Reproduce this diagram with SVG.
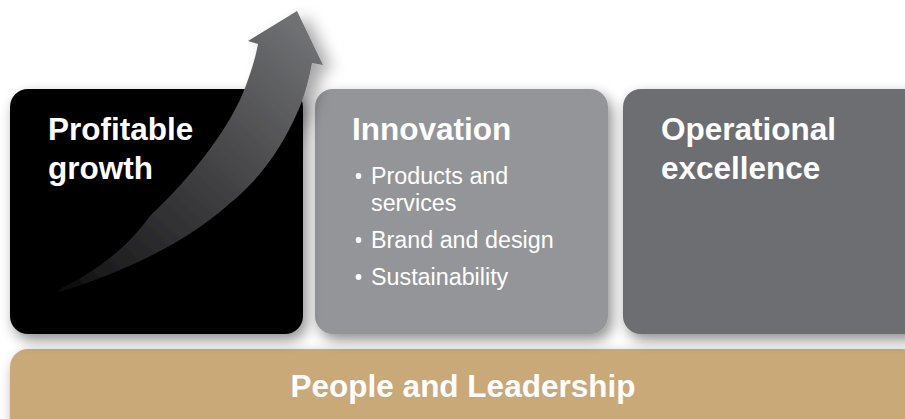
<svg xmlns="http://www.w3.org/2000/svg" width="905" height="419" viewBox="0 0 905 419">
<defs>
<filter id="sh" x="-20%" y="-20%" width="140%" height="150%">
<feGaussianBlur in="SourceAlpha" stdDeviation="7"/>
<feOffset dx="4" dy="6" result="b"/>
<feComponentTransfer><feFuncA type="linear" slope="0.45"/></feComponentTransfer>
<feMerge><feMergeNode/><feMergeNode in="SourceGraphic"/></feMerge>
</filter>
<filter id="ash" x="-30%" y="-30%" width="160%" height="160%">
<feGaussianBlur in="SourceAlpha" stdDeviation="8"/>
<feOffset dx="10" dy="6"/>
<feComponentTransfer><feFuncA type="linear" slope="0.35"/></feComponentTransfer>
<feMerge><feMergeNode/><feMergeNode in="SourceGraphic"/></feMerge>
</filter>
<linearGradient id="ag" x1="45" y1="296" x2="300" y2="20" gradientUnits="userSpaceOnUse">
<stop offset="0" stop-color="#000000"/>
<stop offset="0.15" stop-color="#1c1c1d"/>
<stop offset="0.5" stop-color="#3d3d3f"/>
<stop offset="1" stop-color="#717275"/>
</linearGradient>
<style>
.t{font-family:"Liberation Sans",Arial,sans-serif;font-weight:bold;font-size:31.5px;fill:#ffffff}
.b{font-family:"Liberation Sans",Arial,sans-serif;font-size:23.3px;fill:#ffffff}
.d{fill:#ffffff}
</style>
</defs>
<rect width="905" height="419" fill="#ffffff"/>
<g id="people-leadership">
<rect x="10" y="349" width="910" height="90" rx="18" fill="#c8a977" filter="url(#sh)"/>
<text class="t" x="463" y="397" text-anchor="middle">People and Leadership</text>
</g>
<g id="operational-excellence">
<rect x="623" y="89" width="300" height="245" rx="18" fill="#6d6e71" filter="url(#sh)"/>
<text class="t" x="661" y="140">Operational</text>
<text class="t" x="661" y="179">excellence</text>
</g>
<g id="innovation">
<rect x="315" y="89" width="293" height="245" rx="18" fill="#939598" filter="url(#sh)"/>
<text class="t" x="352" y="140">Innovation</text>
<circle class="d" cx="358.5" cy="176" r="2.9"/>
<text class="b" x="371" y="184">Products and</text>
<text class="b" x="371" y="211">services</text>
<circle class="d" cx="358.5" cy="240" r="2.9"/>
<text class="b" x="371" y="248">Brand and design</text>
<circle class="d" cx="358.5" cy="277" r="2.9"/>
<text class="b" x="371" y="285">Sustainability</text>
</g>
<g id="profitable-growth">
<rect x="10" y="89" width="293" height="245" rx="18" fill="#000000" filter="url(#sh)"/>
<text class="t" x="48" y="140">Profitable</text>
<text class="t" x="48" y="179">growth</text>
</g>
<g id="connectors">
<path d="M42,298 C80,280 120,258 150,216 C190,178 225,135 243,93 C250,75 255,60 258,44 L248,41 L297,11 L323,65 L312,63 C308,85 303,100 297,113 C285,140 265,175 230,203 C195,235 140,268 42,298 Z" fill="url(#ag)" filter="url(#ash)"/>
</g>
</svg>
